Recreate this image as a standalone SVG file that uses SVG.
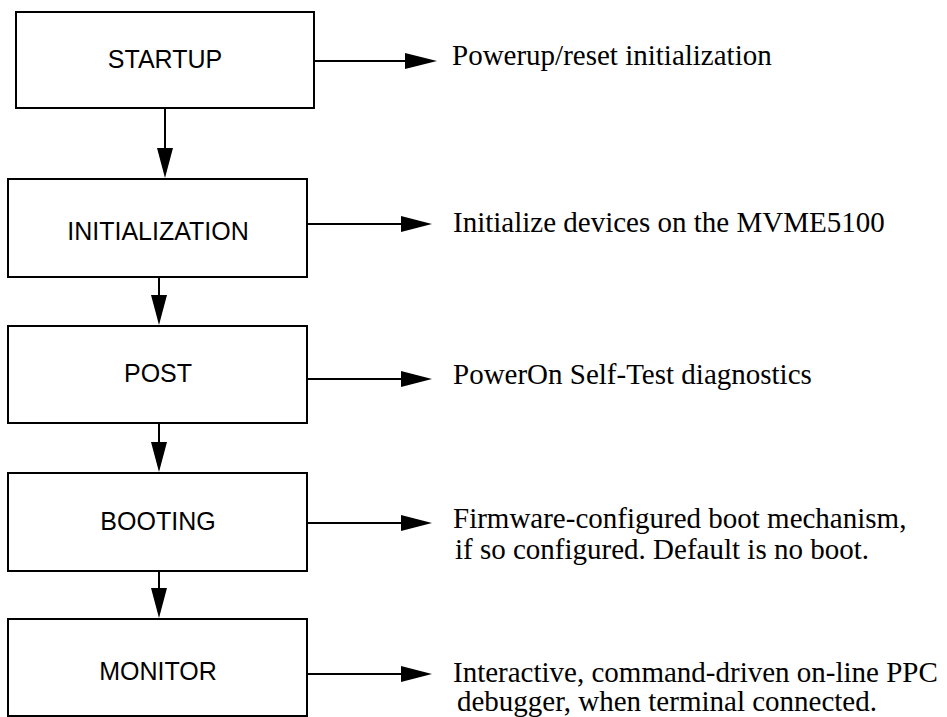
<svg xmlns="http://www.w3.org/2000/svg" width="947" height="717" viewBox="0 0 947 717">
<style>
.box{fill:#fff;stroke:#000;stroke-width:2}
.lbl{font-family:"Liberation Sans",Arial,sans-serif;font-size:25px;fill:#000;text-anchor:middle}
.desc{font-family:"Liberation Serif","Times New Roman",serif;font-size:29px;fill:#000}
.ln{stroke:#000;stroke-width:2;fill:none}
.ah{fill:#000}
</style>
<rect width="947" height="717" fill="#fff"/>
<g id="startup"><rect class="box" x="16" y="12" width="298" height="96"/><text class="lbl" x="165" y="68">STARTUP</text></g>
<g id="initialization"><rect class="box" x="8" y="179" width="299" height="98"/><text class="lbl" x="158" y="240">INITIALIZATION</text></g>
<g id="post"><rect class="box" x="8" y="326" width="299" height="97"/><text class="lbl" x="158" y="382">POST</text></g>
<g id="booting"><rect class="box" x="8" y="473" width="299" height="98"/><text class="lbl" x="158" y="530">BOOTING</text></g>
<g id="monitor"><rect class="box" x="8" y="619" width="299" height="97"/><text class="lbl" x="158" y="680">MONITOR</text></g>
<g id="desc-startup"><text class="desc" x="452" y="65">Powerup/reset initialization</text></g>
<g id="desc-initialization"><text class="desc" x="453" y="232">Initialize devices on the MVME5100</text></g>
<g id="desc-post"><text class="desc" x="453" y="384">PowerOn Self-Test diagnostics</text></g>
<g id="desc-booting"><text class="desc" x="453" y="528">Firmware-configured boot mechanism,</text><text class="desc" x="455" y="559">if so configured. Default is no boot.</text></g>
<g id="desc-monitor"><text class="desc" x="453" y="682">Interactive, command-driven on-line PPC</text><text class="desc" x="457" y="711">debugger, when terminal connected.</text></g>
<g id="connectors">
<line class="ln" x1="165" y1="108" x2="165" y2="150"/><polygon class="ah" points="157,148 173,148 165,178"/>
<line class="ln" x1="159" y1="277" x2="159" y2="297"/><polygon class="ah" points="151,295 167,295 159,325"/>
<line class="ln" x1="159" y1="423" x2="159" y2="444"/><polygon class="ah" points="151,442 167,442 159,472"/>
<line class="ln" x1="159" y1="571" x2="159" y2="590"/><polygon class="ah" points="151,588 167,588 159,618"/>
<line class="ln" x1="314" y1="61" x2="407" y2="61"/><polygon class="ah" points="405,53 405,69 437,61"/>
<line class="ln" x1="307" y1="224" x2="403" y2="224"/><polygon class="ah" points="401,216 401,232 432,224"/>
<line class="ln" x1="307" y1="379" x2="403" y2="379"/><polygon class="ah" points="401,371 401,387 432,379"/>
<line class="ln" x1="307" y1="523" x2="403" y2="523"/><polygon class="ah" points="401,515 401,531 432,523"/>
<line class="ln" x1="307" y1="674" x2="403" y2="674"/><polygon class="ah" points="401,666 401,682 432,674"/>
</g>
</svg>
